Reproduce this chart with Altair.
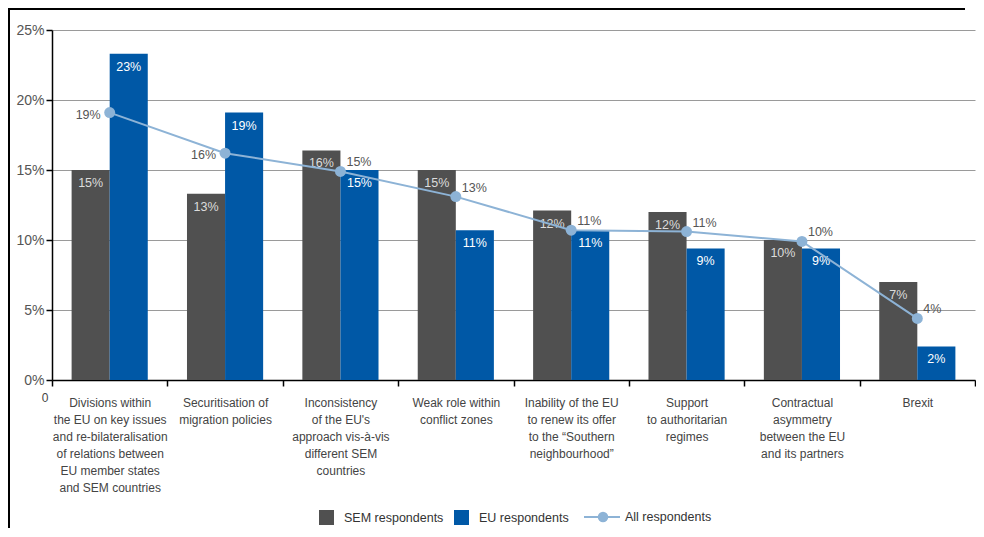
import altair as alt
import pandas as pd

categories = [
    "Divisions within|the EU on key issues|and re-bilateralisation|of relations between|EU member states|and SEM countries",
    "Securitisation of|migration policies",
    "Inconsistency|of the EU's|approach vis-à-vis|different SEM|countries",
    "Weak role within|conflict zones",
    "Inability of the EU|to renew its offer|to the “Southern|neighbourhood”",
    "Support|to authoritarian|regimes",
    "Contractual|asymmetry|between the EU|and its partners",
    "Brexit",
]
sem_values = [15.0, 13.3, 16.4, 15.0, 12.1, 12.0, 10.0, 7.0]
eu_values = [23.3, 19.1, 15.0, 10.7, 10.7, 9.4, 9.4, 2.4]
all_values = [19.1, 16.2, 14.9, 13.1, 10.7, 10.6, 9.9, 4.4]
series_names = ["SEM respondents", "EU respondents", "All respondents"]
y_ticks = [0, 5, 10, 15, 20, 25]
left_label_cats = categories[:2]

GRAY = "#505050"
BLUE = "#0058a6"
LIGHT = "#8db3d6"
W, H = 923, 350

bars_df = pd.DataFrame({
    "cat": categories * 2,
    "series": [series_names[0]] * len(categories) + [series_names[1]] * len(categories),
    "value": sem_values + eu_values,
})
all_df = pd.DataFrame({"cat": categories, "series": series_names[2], "value": all_values})

x_enc = alt.X(
    "cat:N", sort=categories,
    scale=alt.Scale(paddingInner=0, paddingOuter=0),
    axis=alt.Axis(
        title=None, labelExpr="split(datum.label, '|')", labelAngle=0,
        tickBand="extent", domainColor="black", tickColor="black", tickSize=6,
        domainWidth=1.5, tickWidth=1.5,
        labelPadding=11, labelFontSize=12, labelColor="#444", labelLineHeight=17,
        labelBaseline="top", labelOverlap=False, labelBound=False, labelLimit=300,
    ),
)
y_enc = alt.Y(
    "value:Q", scale=alt.Scale(domain=[0, 25], nice=False),
    axis=alt.Axis(
        values=y_ticks, labelExpr="datum.value + '%'", title=None, grid=True,
        gridColor="#9a9a9a", gridWidth=1, domainColor="black", tickColor="black",
        tickSize=6, labelFontSize=14, labelColor="#555", labelPadding=2,
        domainWidth=1.5, tickWidth=1.5,
    ),
)
xoff = alt.XOffset("series:N", sort=series_names[:2],
                   scale=alt.Scale(paddingOuter=0.515, paddingInner=0))

base_bars = alt.Chart(bars_df).transform_calculate(
    label="format(datum.value, '.0f') + '%'"
)

bars = base_bars.mark_bar().encode(
    x=x_enc, y=y_enc, xOffset=xoff,
    color=alt.Color(
        "series:N",
        scale=alt.Scale(domain=series_names[:2], range=[GRAY, BLUE]),
        legend=alt.Legend(
            orient="none", legendX=267, legendY=480, direction="horizontal",
            title=None, symbolType="square", symbolSize=225, symbolStrokeWidth=0,
            labelFontSize=12.5, labelColor="#333", labelOffset=10,
            columnPadding=10, padding=0, symbolOpacity=1,
        ),
    ),
)

bar_text = base_bars.mark_text(dy=13, fontSize=12.5, baseline="middle").encode(
    x=alt.X("cat:N", sort=categories), y="value:Q", xOffset=xoff,
    text="label:N",
    color=alt.condition(f"datum.series == '{series_names[0]}'",
                        alt.value("#dcdcdc"), alt.value("#ffffff")),
)

base_all = alt.Chart(all_df).transform_calculate(
    label="format(datum.value, '.0f') + '%'"
)

line = base_all.mark_line(strokeWidth=2, color=LIGHT).encode(
    x=alt.X("cat:N", sort=categories), y="value:Q",
)
points = base_all.mark_circle(size=120, color=LIGHT, opacity=1).encode(
    x=alt.X("cat:N", sort=categories), y="value:Q",
)
all_text_left = base_all.transform_filter(
    alt.FieldOneOfPredicate(field="cat", oneOf=left_label_cats)
).mark_text(align="right", dx=-9, dy=2, fontSize=12.5, color="#555").encode(
    x=alt.X("cat:N", sort=categories), y="value:Q", text="label:N",
)
all_text_right = base_all.transform_filter(
    ~alt.FieldOneOfPredicate(field="cat", oneOf=left_label_cats)
).mark_text(align="left", dx=6, dy=-9, fontSize=12.5, color="#555").encode(
    x=alt.X("cat:N", sort=categories), y="value:Q", text="label:N",
)

# legend entry for the line series
legend_df = pd.DataFrame({"t": [series_names[2]]})
leg_line = alt.Chart(legend_df).mark_rule(color=LIGHT, strokeWidth=2).encode(
    x=alt.value(532), x2=alt.value(568), y=alt.value(487),
)
leg_dot = alt.Chart(legend_df).mark_circle(size=110, color=LIGHT, opacity=1).encode(
    x=alt.value(551), y=alt.value(487),
)
leg_text = alt.Chart(legend_df).mark_text(
    align="left", baseline="middle", fontSize=12.5, color="#333"
).encode(x=alt.value(573), y=alt.value(487), text="t:N")

one = pd.DataFrame({"t": ["0"]})
zero_text = alt.Chart(one).mark_text(fontSize=12, color="#444", baseline="middle").encode(
    x=alt.value(-7), y=alt.value(H + 18), text="t:N",
)
frame_top = alt.Chart(one).mark_rule(color="black", strokeWidth=2).encode(
    x=alt.value(-44), x2=alt.value(W - 10), y=alt.value(-21),
)
frame_left = alt.Chart(one).mark_rule(color="black", strokeWidth=2).encode(
    x=alt.value(-43), y=alt.value(-22), y2=alt.value(H + 150),
)

chart = alt.layer(
    bars, bar_text, line, points, all_text_left, all_text_right,
    leg_line, leg_dot, leg_text, zero_text, frame_top, frame_left,
).properties(
    width=W, height=H,
    autosize=alt.AutoSizeParams(type="none"),
    padding={"left": 44, "top": 22, "right": 1, "bottom": 148},
).configure(
    font="Liberation Sans",
).configure_view(stroke=None)

chart.save("out.html", embed_options={"renderer": "svg", "actions": False})
